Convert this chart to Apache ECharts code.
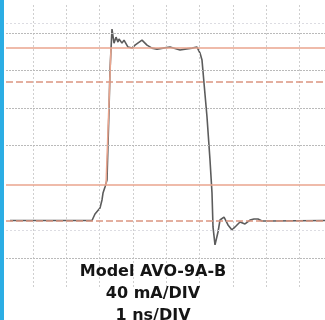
<!DOCTYPE html>
<html>
<head>
<meta charset="utf-8">
<script src="https://cdn.jsdelivr.net/npm/echarts@6/dist/echarts.min.js"></script>
<style>
  html, body { margin: 0; padding: 0; background: #fff; }
  #wrap { position: relative; width: 325px; height: 320px; }
  #chart { width: 325px; height: 320px; }
  #edge { position: absolute; left: 0; top: 0; width: 4px; height: 320px; background: #2badE4; }
</style>
</head>
<body>
<div id="wrap">
  <div id="chart"></div>
  <div id="edge"></div>
</div>
<script>
// === Data === //
// time in ns (1 div = 1 ns), current in mA (1 div = 40 mA)
const timeNs = [-0.69, 1.77, 1.86, 2.01, 2.07, 2.10, 2.16, 2.22, 2.28, 2.31, 2.37, 2.43, 2.49, 2.55, 2.58, 2.67, 2.73, 2.85, 2.97, 3.06, 3.27, 3.42, 3.57, 3.72, 3.90, 4.11, 4.41, 4.56, 4.77, 4.92, 5.01, 5.07, 5.13, 5.22, 5.31, 5.37, 5.40, 5.46, 5.55, 5.61, 5.73, 5.85, 5.97, 6.09, 6.21, 6.36, 6.51, 6.63, 6.75, 6.87, 7.11, 8.76]
const currentMA = [0, 0, 6.9, 13.3, 21.9, 29.3, 35.7, 43.2, 117.9, 160.5, 204.3, 189.3, 195.7, 190.4, 193.6, 189.3, 192.5, 185.1, 184, 187.2, 192.5, 187.2, 184, 182.9, 184, 185.1, 181.9, 182.9, 184, 185.1, 178.7, 171.2, 146.7, 110.4, 64.5, 29.3, -6.9, -26.1, -12.3, 0.5, 3.7, -4.8, -10.1, -5.9, -1.6, -3.7, 0.5, 1.6, 1.6, -0.5, -0.5, 0]

// rise-time marker (orange) between the two reference levels
const riseTimeNs = [2.19, 2.34]
const riseCurrentMA = [37.9, 184]

// graticule
const timeDivs = [0, 1, 2, 3, 4, 5, 6, 7, 8]
const currentDivs = [-40, 80, 120, 160, 200]
const faintLevels = [210.7, -10.1]
const solidLevels = [184, 37.9]
const dashedLevels = [147.7, 0]

const labelLines = ['Model AVO-9A-B', '40 mA/DIV', '1 ns/DIV']

const gray = '#5c5c5c'
const orange = '#eaa58e'

const myChart = echarts.init(document.getElementById('chart'))

const zip = (xs, ys) => xs.map((x, i) => [x, ys[i]])

const vLine = (v, style) => ({ xAxis: v, lineStyle: style })
const hLine = (v, style) => ({ yAxis: v, lineStyle: style })

const gridMarks = [
  ...timeDivs.map(v => vLine(v, { color: '#cfcfcf', width: 1, type: [2, 2] })),
  ...currentDivs.map(v => hLine(v, { color: '#bababa', width: 1, type: [2, 1] })),
  ...faintLevels.map(v => hLine(v, { color: '#dcdce2', width: 1, type: [2, 2] })),
  ...solidLevels.map(v => hLine(v, { color: orange, width: 1.5, type: 'solid' })),
  ...dashedLevels.map(v => hLine(v, { color: '#dc9580', width: 1.5, type: [7, 3] }))
]

const option = {
  animation: false,
  title: {
    text: labelLines.join('\n'),
    left: 148,
    top: 256,
    textAlign: 'center',
    textStyle: {
      fontFamily: 'DejaVu Sans',
      fontWeight: 'bold',
      fontSize: 16,
      lineHeight: 22,
      color: '#151515'
    }
  },
  grid: { left: 6, right: 0, top: 5, bottom: 33 },
  xAxis: {
    type: 'value',
    min: -0.81,
    max: 8.76,
    show: false,
    splitLine: { show: false }
  },
  yAxis: {
    type: 'value',
    min: -71,
    max: 230,
    show: false,
    splitLine: { show: false }
  },
  series: [
    {
      name: 'graticule',
      type: 'line',
      data: [],
      silent: true,
      z: 1,
      markLine: {
        silent: true,
        symbol: 'none',
        label: { show: false },
        emphasis: { disabled: true },
        data: gridMarks
      }
    },
    {
      name: 'trace',
      type: 'line',
      data: zip(timeNs, currentMA),
      symbol: 'none',
      smooth: false,
      lineStyle: { color: gray, width: 1.6 },
      z: 3
    },
    {
      name: 'rise',
      type: 'line',
      data: zip(riseTimeNs, riseCurrentMA),
      symbol: 'none',
      lineStyle: { color: orange, width: 1.5 },
      z: 4
    }
  ]
}

myChart.setOption(option)
</script>
</body>
</html>
